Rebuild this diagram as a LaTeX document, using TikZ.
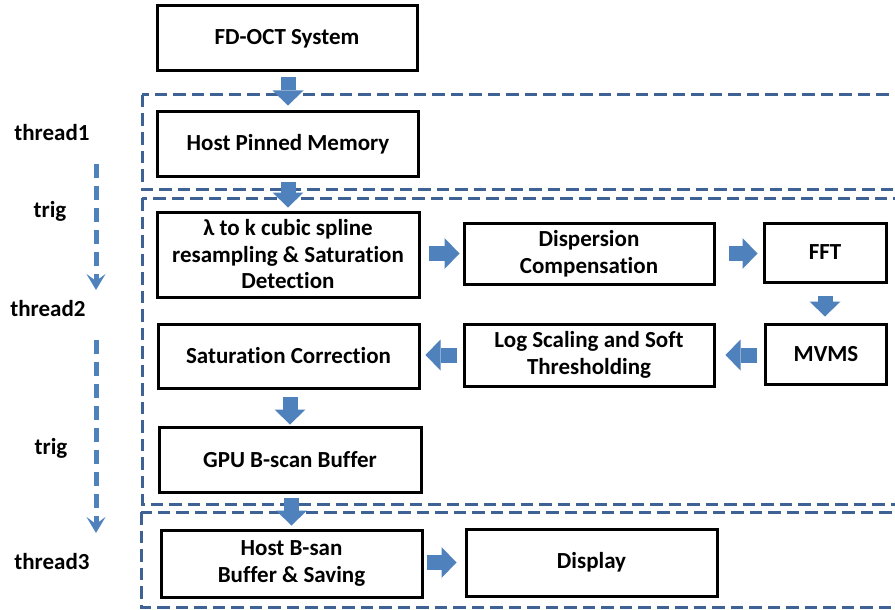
\documentclass[tikz,border=0pt]{standalone}
\usepackage{fontspec}
\setmainfont{Carlito}[Ligatures=NoCommon]
\usetikzlibrary{arrows.meta}
\definecolor{flowblue}{RGB}{79,129,189}
\definecolor{frameblue}{RGB}{62,98,148}
\begin{document}
\begin{tikzpicture}[x=1pt,y=-1pt,
  txt/.style={font=\bfseries\fontsize{23}{26.5}\selectfont},
  box/.style={txt, draw=black, line width=3pt, fill=white, align=center, inner sep=0pt},
  threadframe/.style={draw=frameblue, line width=3pt, dash pattern=on 12.5pt off 6pt},
  blockarrow/.style={draw=flowblue, line width=15pt,
    -{Triangle[width=31pt,length=15pt,line width=0pt]}},
  trigarrow/.style={draw=flowblue, line width=5pt, dash pattern=on 14pt off 8pt,
    -{Stealth[width=19pt,length=16pt,inset=7pt,line width=0pt]}}]
\useasboundingbox (0,0) rectangle (895,610);
\fill[white] (0,0) rectangle (895,610);

% thread frames, running off the right edge
\begin{scope}
  \clip (0,0) rectangle (895,610);
  \draw[threadframe] (142,95) rectangle (930,189);
  \draw[threadframe] (142,198) rectangle (930,504);
  \draw[threadframe] (141,512) rectangle (930,607);
\end{scope}

% processing stages
\node[box, minimum width=260pt, minimum height=65pt] (fd)   at (287,38.5)  {FD-OCT System};
\node[box, minimum width=261pt, minimum height=64pt] (hpm)  at (288,144)   {Host Pinned Memory};
\node[box, minimum width=262pt, minimum height=85pt] (lam)  at (288,254.5) {λ to k cubic spline\\resampling \& Saturation\\Detection};
\node[box, minimum width=250pt, minimum height=61pt] (disp) at (589,253.5) {Dispersion\\Compensation};
\node[box, minimum width=122pt, minimum height=59pt] (fft)  at (825,252.5) {FFT};
\node[box, minimum width=121pt, minimum height=60pt] (mvms) at (826,354)   {MVMS};
\node[box, minimum width=250pt, minimum height=62pt] (log)  at (589,355)   {Log Scaling and Soft\\Thresholding};
\node[box, minimum width=261pt, minimum height=64pt] (sat)  at (288.5,356) {Saturation Correction};
\node[box, minimum width=262pt, minimum height=65pt] (gpu)  at (290,459.5) {GPU B-scan Buffer};
\node[box, minimum width=261pt, minimum height=67pt] (hbs)  at (291.5,563.5) {Host B-san\\Buffer \& Saving};
\node[box, minimum width=251pt, minimum height=67pt] (show) at (591.5,562.5) {Display};

% data flow
\draw[blockarrow, shorten <=5pt, shorten >=5pt] (hpm.north |- fd.south) -- (hpm.north);
\draw[blockarrow, shorten <=4pt, shorten >=3pt] (hpm.south) -- (hpm.south |- lam.north);
\draw[blockarrow, shorten <=8pt, shorten >=3pt] (lam.east |- disp) -- (disp.west);
\draw[blockarrow, shorten <=13pt, shorten >=5pt] (disp.east) -- (fft.west |- disp);
\draw[blockarrow, shorten <=12pt, shorten >=6pt] (fft.south) -- (fft.south |- mvms.north);
\draw[blockarrow, shorten <=7pt, shorten >=10pt] (mvms.west |- log) -- (log.east);
\draw[blockarrow, shorten <=6pt, shorten >=5pt] (log.west) -- (sat.east |- log);
\draw[blockarrow, shorten <=7pt, shorten >=1pt] (sat.south -| gpu) -- (gpu.north);
\draw[blockarrow, shorten <=4pt, shorten >=3pt] (gpu.south -| hbs) -- (hbs.north);
\draw[blockarrow, shorten <=3pt, shorten >=8pt] (hbs.east |- show) -- (show.west);

% thread labels and triggers
\node[txt] (t1)  at (52,133) {thread1};
\node[txt] (tr1) at (50,211) {trig};
\node[txt] (t2)  at (48,309) {thread2};
\node[txt] (tr2) at (51,448) {trig};
\node[txt] (t3)  at (52,562) {thread3};
\coordinate (a1s) at (96,164);
\coordinate (a1e) at (96,290);
\coordinate (a2s) at (96,340);
\coordinate (a2e) at (96,533);
\draw[trigarrow] (a1s) -- (a1e);
\draw[trigarrow] (a2s) -- (a2e);
\end{tikzpicture}
\end{document}
